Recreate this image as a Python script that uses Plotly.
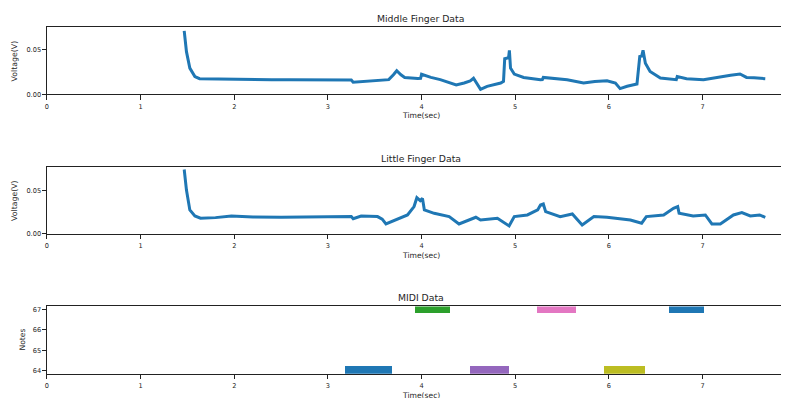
import plotly.graph_objects as go

# ---------------- data ----------------
middle_t = [1.466, 1.49, 1.526, 1.58, 1.63, 1.8, 2.0, 2.2, 2.4, 2.6, 2.8, 3.0, 3.2, 3.25, 3.27,
            3.4, 3.57, 3.65, 3.7, 3.735, 3.78, 3.82, 3.96, 3.99, 4.0, 4.1, 4.2, 4.28, 4.37,
            4.455, 4.52, 4.555, 4.60, 4.63, 4.70, 4.845, 4.875, 4.888, 4.92, 4.93, 4.938,
            4.95, 4.99, 5.09, 5.27, 5.29, 5.30, 5.45, 5.555, 5.73, 5.85, 5.98, 6.07, 6.12,
            6.195, 6.30, 6.33, 6.35, 6.365, 6.39, 6.44, 6.55, 6.69, 6.72, 6.73, 6.83, 7.01,
            7.1, 7.19, 7.3, 7.40, 7.47, 7.55, 7.67]
middle_v = [0.0713, 0.048, 0.0295, 0.020, 0.0176, 0.0172, 0.0170, 0.0168, 0.0165, 0.0163,
            0.0160, 0.0158, 0.0155, 0.0160, 0.0135, 0.0145, 0.0155, 0.0165, 0.022, 0.0265,
            0.022, 0.019, 0.0178, 0.0180, 0.0225, 0.019, 0.0165, 0.0139, 0.0105, 0.0127,
            0.0150, 0.0180, 0.011, 0.0055, 0.009, 0.0127, 0.0146, 0.0400, 0.0410, 0.0420,
            0.0495, 0.0295, 0.0228, 0.019, 0.0164, 0.0165, 0.0190, 0.0175, 0.0164, 0.0127,
            0.0145, 0.0153, 0.0127, 0.0064, 0.009, 0.0116, 0.0425, 0.043, 0.0495, 0.035,
            0.0257, 0.0183, 0.0164, 0.0165, 0.0200, 0.0176, 0.0164, 0.0180, 0.0200, 0.0215,
            0.0228, 0.019, 0.0185, 0.0176]

little_t = [1.466, 1.49, 1.526, 1.58, 1.64, 1.8, 1.97, 2.2, 2.5, 2.8, 3.0, 3.21, 3.25, 3.27,
            3.355, 3.53, 3.58, 3.62, 3.71, 3.85, 3.92, 3.95, 3.986, 4.01, 4.03, 4.135, 4.295,
            4.40, 4.58, 4.63, 4.81, 4.935, 4.99, 5.13, 5.24, 5.27, 5.30, 5.325, 5.48, 5.61,
            5.715, 5.84, 5.98, 6.23, 6.35, 6.40, 6.585, 6.69, 6.735, 6.75, 6.90, 7.03, 7.10,
            7.19, 7.33, 7.42, 7.51, 7.61, 7.67]
little_v = [0.0745, 0.0507, 0.0277, 0.0207, 0.0181, 0.0188, 0.0207, 0.0195, 0.0192, 0.0192,
            0.0192, 0.0195, 0.0200, 0.0175, 0.0207, 0.0200, 0.0170, 0.0115, 0.0154, 0.0219,
            0.0316, 0.0419, 0.0385, 0.0410, 0.0277, 0.0238, 0.020, 0.0115, 0.0192, 0.016,
            0.018, 0.0092, 0.020, 0.0219, 0.0277, 0.0334, 0.0346, 0.0258, 0.020, 0.023,
            0.0104, 0.020, 0.0192, 0.016, 0.0123, 0.020, 0.0219, 0.0296, 0.0316, 0.0238,
            0.0207, 0.0219, 0.0115, 0.0115, 0.0219, 0.0246, 0.0207, 0.0219, 0.0192]

note_pitch = [64, 67, 64, 67, 64, 67]
note_start = [3.177, 3.93, 4.512, 5.236, 5.946, 6.638]
note_end = [3.682, 4.30, 4.934, 5.645, 6.382, 7.01]
note_colors = ["#1f77b4", "#2ca02c", "#9467bd", "#e377c2", "#bcbd22", "#1f77b4"]

# ---------------- figure ----------------
OFF = 8                      # page body margin
SW, SH = 789, 398            # screen size
W, H = SW - OFF, SH - OFF    # figure size
LINE = "#1f77b4"
TXT = "#262626"
FONT = "DejaVu Sans"


def px(sx):
    return (sx - OFF) / W


def py(sy):
    return 1 - (sy - OFF) / H


fig = go.Figure()
fig.add_trace(go.Scatter(x=middle_t, y=middle_v, mode="lines",
                         line=dict(color=LINE, width=3.0), xaxis="x", yaxis="y",
                         showlegend=False, hoverinfo="skip"))
fig.add_trace(go.Scatter(x=little_t, y=little_v, mode="lines",
                         line=dict(color=LINE, width=3.0), xaxis="x2", yaxis="y2",
                         showlegend=False, hoverinfo="skip"))
for p, s, e, c in zip(note_pitch, note_start, note_end, note_colors):
    fig.add_trace(go.Bar(x=[(s + e) / 2], y=[0.4], base=[p - 0.2], width=[e - s],
                         marker=dict(color=c, line=dict(width=0)),
                         xaxis="x3", yaxis="y3", showlegend=False, hoverinfo="skip"))

xr = [0, (SW - 45) / 93.9]


def ydom(top, bot):
    return [py(bot), py(top)]


common_x = dict(range=xr, domain=[px(45), 1], showline=True, linecolor="#222", linewidth=1,
                mirror=True, ticks="outside", ticklen=4.5, tickcolor="#222",
                ticklabelstandoff=1,
                tickvals=[0, 1, 2, 3, 4, 5, 6, 7], showgrid=False, zeroline=False,
                tickfont=dict(family=FONT, size=6.6, color=TXT))
common_y = dict(showline=True, linecolor="#222", linewidth=1, mirror=False,
                ticks="outside", ticklen=3.5, tickcolor="#222", showgrid=False,
                zeroline=False, tickfont=dict(family=FONT, size=6.6, color=TXT))

fig.update_layout(
    width=W, height=H, margin=dict(l=0, r=0, t=0, b=0),
    paper_bgcolor="white", plot_bgcolor="white", bargap=0,
    xaxis=dict(common_x, anchor="y"),
    yaxis=dict(common_y, anchor="x", domain=ydom(27.5, 95.2), range=[0, 0.0754],
               tickvals=[0, 0.05], ticktext=["0.00", "0.05"]),
    xaxis2=dict(common_x, anchor="y2"),
    yaxis2=dict(common_y, anchor="x2", domain=ydom(168.5, 236.2), range=[0, 0.0776],
                tickvals=[0, 0.05], ticktext=["0.00", "0.05"]),
    xaxis3=dict(common_x, anchor="y3"),
    yaxis3=dict(common_y, anchor="x3", domain=ydom(309.5, 377.5), range=[63.84, 67.16],
                tickvals=[64, 65, 66, 67]),
)


def ann(text, x, y, size, angle=0, yanchor="middle"):
    fig.add_annotation(text=text, x=px(x), y=py(y), xref="paper", yref="paper",
                       showarrow=False, textangle=angle, xanchor="center", yanchor=yanchor,
                       font=dict(family=FONT, size=size, color=TXT))


ann("Middle Finger Data", 420, 18.5, 9.3)
ann("Little Finger Data", 420, 160, 9.3)
ann("MIDI Data", 420, 300.5, 9.3)
ann("Voltage(V)", 12, 61, 7.8, -90)
ann("Voltage(V)", 12, 202, 7.8, -90)
ann("Notes", 21, 343, 7.6, -90)
ann("Time(sec)", 420, 117, 7.6)
ann("Time(sec)", 420, 258, 7.6)
ann("Time(sec)", 420, 393, 7.6, yanchor="top")

fig.write_html("out.html")
